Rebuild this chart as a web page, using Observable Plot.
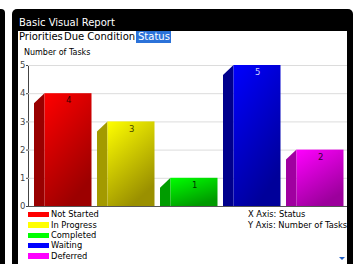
<!DOCTYPE html>
<html><head><meta charset="utf-8">
<script src="https://cdn.jsdelivr.net/npm/d3@7"></script>
<script src="https://cdn.jsdelivr.net/npm/@observablehq/plot@0.6"></script>
<style>
html,body{margin:0;padding:0;background:#fff;}
body{width:359px;height:264px;overflow:hidden;position:relative;font-family:"DejaVu Sans",sans-serif;}
.abs{position:absolute;}
#strip{left:0;top:9px;width:5px;height:260px;background:#000;border-top-right-radius:4px;}
#panel{left:12px;top:9px;width:341px;height:270px;background:#000;border-radius:5px 5px 0 0;}
#content{left:18px;top:31px;width:329px;height:240px;background:#fff;}
#title{left:19px;top:17px;font-size:10px;line-height:12px;color:#fff;white-space:nowrap;}
.tab{top:30.5px;font-size:10px;line-height:12px;color:#000;white-space:nowrap;}
#statusbox{left:136px;top:31px;width:35px;height:11.5px;background:#2b72d9;}
#ylabel{left:24px;top:48px;font-size:8px;line-height:10px;color:#000;white-space:nowrap;}
#chart{left:0px;top:45px;}
.row{height:10.4px;display:flex;align-items:center;font-size:8.3px;line-height:10.4px;white-space:nowrap;color:#000;}
.sw{width:21px;height:5.5px;margin-right:2px;}
#legend{left:28px;top:209.3px;}
#notes{left:248px;top:209.3px;}
#tri{left:339px;top:256.5px;width:0;height:0;border-left:3.5px solid transparent;border-right:3.5px solid transparent;border-top:3.5px solid #1f5fc4;}
</style></head>
<body>
<svg id="defs" width="0" height="0" style="position:absolute;left:0;top:0"><defs></defs></svg>
<div id="strip" class="abs"></div>
<div id="panel" class="abs"></div>
<div id="content" class="abs"></div>
<div id="statusbox" class="abs"></div>
<div id="title" class="abs"></div>
<div id="tabs"></div>
<div id="ylabel" class="abs"></div>
<div id="chart" class="abs"></div>
<div id="legend" class="abs"></div>
<div id="notes" class="abs"></div>
<div id="tri" class="abs"></div>
<script>
// ---- data ----
const reportTitle = "Basic Visual Report";
const tabs = ["Priorities", "Due Condition", "Status"];
const yTitle = "Number of Tasks";
const statuses = ["Not Started", "In Progress", "Completed", "Waiting", "Deferred"];
const taskCounts = [4, 3, 1, 5, 2];
const yTicks = [0, 1, 2, 3, 4, 5];
const axisNotes = ["X Axis: Status", "Y Axis: Number of Tasks"];

// ---- styles ----
const faceTop = ["#ff0000", "#ffff00", "#00ff00", "#0000ff", "#ff00ff"];
const faceBottom = ["#9c0000", "#9a9000", "#009a00", "#00009a", "#9c009c"];
const sideFill = ["#990000", "#a39a00", "#009c00", "#00008c", "#a000a0"];
const labelFill = ["#330000", "#444400", "#003300", "#d0d0ff", "#330033"];
const tabLeft = [19, 64, 138];
const SIDE = 5, FRONT = 15.5, DEPTH = 10;

// header texts
document.getElementById("title").textContent = reportTitle;
tabs.forEach((t, i) => {
  const el = document.createElement("div");
  el.className = "abs tab";
  el.style.left = tabLeft[i] + "px";
  if (i === 2) el.style.color = "#fff";
  el.textContent = t;
  document.getElementById("tabs").appendChild(el);
});
document.getElementById("ylabel").textContent = yTitle;

// gradients
const defs = d3.select("#defs defs");
statuses.forEach((s, i) => {
  const g = defs.append("linearGradient").attr("id", "face" + i)
    .attr("x1", 0).attr("y1", 0).attr("x2", 0.5).attr("y2", 1);
  g.append("stop").attr("offset", "0%").attr("stop-color", faceTop[i]);
  g.append("stop").attr("offset", "100%").attr("stop-color", faceBottom[i]);
});

const data = statuses.map((status, i) => ({status, count: taskCounts[i], idx: i}));

function sideFaces(index, scales) {
  const x = scales.x, y = scales.y;
  const g = d3.create("svg:g");
  data.forEach(d => {
    const x0 = x(d.status), yb = y(0), yv = y(d.count);
    const a = x0 + SIDE, b = x0 + FRONT;
    g.append("path")
      .attr("d", `M${a},${yv + DEPTH}L${b},${yv}L${b},${yb}L${a},${yb}Z`)
      .attr("fill", sideFill[d.idx]);
  });
  return g.node();
}

const chart = Plot.plot({
  width: 347, height: 168,
  marginLeft: 28, marginRight: 0, marginTop: 20, marginBottom: 7,
  style: {background: "transparent", fontFamily: "DejaVu Sans", fontSize: "8.5px", color: "#444", overflow: "visible"},
  x: {domain: statuses, range: [28.5, 344.5], padding: 0, axis: null},
  y: {domain: [0, 5], ticks: yTicks, tickSize: 2, tickPadding: 1, line: true, label: null, tickFormat: () => ""},
  color: {type: "identity"},
  marks: [
    Plot.ruleY(yTicks.slice(1), {stroke: "#dcdcdc"}),
    sideFaces,
    Plot.barY(data, {x: "status", y: "count", fill: d => `url(#face${d.idx})`, insetLeft: FRONT, insetRight: 0.5}),
    Plot.text(data, {x: "status", y: "count", text: d => String(d.count), dx: FRONT / 2, dy: 7,
      fill: d => labelFill[d.idx], fontSize: 8.5, fontFamily: "DejaVu Sans"}),
    Plot.text(yTicks, {y: d => d, text: d => String(d), frameAnchor: "left", textAnchor: "end", dx: -3,
      fill: "#444", fontSize: 8.5, fontFamily: "DejaVu Sans"}),
    Plot.ruleY([0], {stroke: "#555"})
  ]
});
document.getElementById("chart").appendChild(chart);

// legend
const leg = document.getElementById("legend");
statuses.forEach((s, i) => {
  const row = document.createElement("div");
  row.className = "row";
  const sw = document.createElement("div");
  sw.className = "sw";
  sw.style.background = faceTop[i];
  const lab = document.createElement("span");
  lab.textContent = s;
  row.appendChild(sw); row.appendChild(lab);
  leg.appendChild(row);
});
const notes = document.getElementById("notes");
axisNotes.forEach(t => {
  const row = document.createElement("div");
  row.className = "row";
  row.textContent = t;
  notes.appendChild(row);
});
</script>
</body></html>
